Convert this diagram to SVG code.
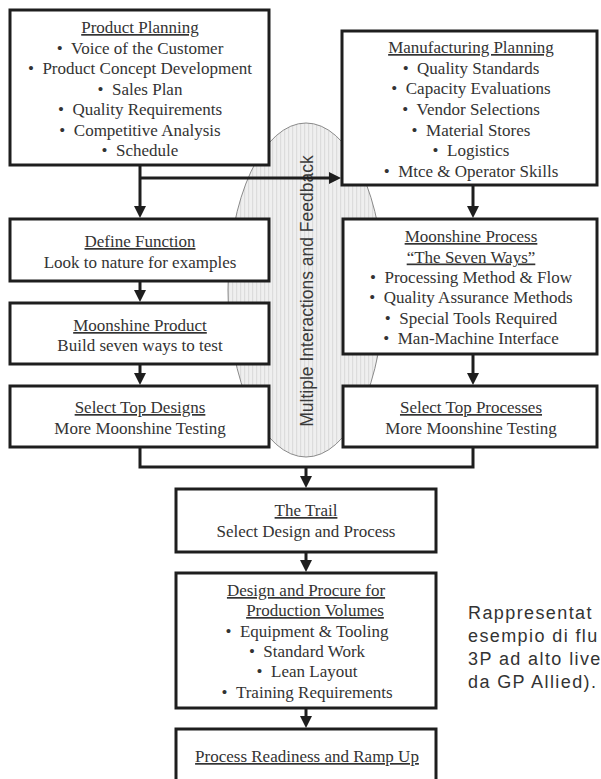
<svg xmlns="http://www.w3.org/2000/svg" width="601" height="779" viewBox="0 0 601 779">
<defs>
<style>
.box{fill:#fff;stroke:#1e1e1e;stroke-width:3}
.t{font-family:"Liberation Serif","Times New Roman",serif;font-size:17px;fill:#333;text-anchor:middle}
.u{text-decoration:underline}
.conn{stroke:#1e1e1e;stroke-width:3;fill:none}
.note{font-family:"Liberation Sans",Arial,sans-serif;font-size:18px;fill:#333;letter-spacing:1.4px}
</style>
<pattern id="stripes" width="4" height="10" patternUnits="userSpaceOnUse">
<rect width="4" height="10" fill="#efefef"/>
<rect width="1.2" height="10" fill="#dcdcdc"/>
</pattern>
<marker id="arr" markerUnits="userSpaceOnUse" markerWidth="12" markerHeight="12" refX="8" refY="6" orient="auto">
<path d="M0,0 L12,6 L0,12 z" fill="#1e1e1e"/>
</marker>
</defs>
<rect width="601" height="779" fill="#fff"/>

<g id="feedback">
<ellipse cx="306" cy="290" rx="78" ry="167" fill="url(#stripes)" stroke="#8a8a8a" stroke-width="1"/>
<text transform="translate(312.5,291) rotate(-90)" text-anchor="middle" font-family="'Liberation Sans',Arial,sans-serif" font-size="17.5" fill="#3a3a3a">Multiple Interactions and Feedback</text>
</g>

<g id="connectors">
<path class="conn" d="M140,166 V214" marker-end="url(#arr)"/>
<path class="conn" d="M140,178 H337" marker-end="url(#arr)"/>
<path class="conn" d="M473,186 V214" marker-end="url(#arr)"/>
<path class="conn" d="M140,282 V298" marker-end="url(#arr)"/>
<path class="conn" d="M140,364 V381" marker-end="url(#arr)"/>
<path class="conn" d="M473,354 V381" marker-end="url(#arr)"/>
<path class="conn" d="M140,447 V467 H473 V447"/>
<path class="conn" d="M306,467 V484" marker-end="url(#arr)"/>
<path class="conn" d="M306,552 V568" marker-end="url(#arr)"/>
<path class="conn" d="M306,708 V724" marker-end="url(#arr)"/>
</g>

<g id="product-planning">
<rect class="box" x="10" y="10" width="259" height="155"/>
<text class="t u" x="140" y="33">Product Planning</text>
<text class="t" x="140" y="53.5">•&#160;&#160;Voice of the Customer</text>
<text class="t" x="140" y="74">•&#160;&#160;Product Concept Development</text>
<text class="t" x="140" y="94.5">•&#160;&#160;Sales Plan</text>
<text class="t" x="140" y="115">•&#160;&#160;Quality Requirements</text>
<text class="t" x="140" y="135.5">•&#160;&#160;Competitive Analysis</text>
<text class="t" x="140" y="156">•&#160;&#160;Schedule</text>
</g>

<g id="manufacturing-planning">
<rect class="box" x="342" y="31" width="255" height="154"/>
<text class="t u" x="471" y="53">Manufacturing Planning</text>
<text class="t" x="471" y="73.5">•&#160;&#160;Quality Standards</text>
<text class="t" x="471" y="94">•&#160;&#160;Capacity Evaluations</text>
<text class="t" x="471" y="115">•&#160;&#160;Vendor Selections</text>
<text class="t" x="471" y="135.5">•&#160;&#160;Material Stores</text>
<text class="t" x="471" y="156">•&#160;&#160;Logistics</text>
<text class="t" x="471" y="177">•&#160;&#160;Mtce &amp; Operator Skills</text>
</g>

<g id="define-function">
<rect class="box" x="10" y="219" width="259" height="62"/>
<text class="t u" x="140" y="247">Define Function</text>
<text class="t" x="140" y="268">Look to nature for examples</text>
</g>

<g id="moonshine-product">
<rect class="box" x="10" y="303" width="259" height="61"/>
<text class="t u" x="140" y="331">Moonshine Product</text>
<text class="t" x="140" y="351">Build seven ways to test</text>
</g>

<g id="select-top-designs">
<rect class="box" x="10" y="386" width="259" height="61"/>
<text class="t u" x="140" y="413">Select Top Designs</text>
<text class="t" x="140" y="434">More Moonshine Testing</text>
</g>

<g id="moonshine-process">
<rect class="box" x="343" y="219" width="254" height="135"/>
<text class="t u" x="471" y="242">Moonshine Process</text>
<text class="t u" x="471" y="262.5">“The Seven Ways”</text>
<text class="t" x="471" y="283">•&#160;&#160;Processing Method &amp; Flow</text>
<text class="t" x="471" y="303">•&#160;&#160;Quality Assurance Methods</text>
<text class="t" x="471" y="323.5">•&#160;&#160;Special Tools Required</text>
<text class="t" x="471" y="344">•&#160;&#160;Man-Machine Interface</text>
</g>

<g id="select-top-processes">
<rect class="box" x="343" y="386" width="254" height="61"/>
<text class="t u" x="471" y="413">Select Top Processes</text>
<text class="t" x="471" y="434">More Moonshine Testing</text>
</g>

<g id="the-trail">
<rect class="box" x="176" y="489" width="260" height="63"/>
<text class="t u" x="306" y="516">The Trail</text>
<text class="t" x="306" y="537">Select Design and Process</text>
</g>

<g id="design-procure">
<rect class="box" x="176" y="573" width="260" height="135"/>
<text class="t u" x="306" y="596">Design and Procure for</text>
<text class="t u" x="315" y="616">Production Volumes</text>
<text class="t" x="307" y="637">•&#160;&#160;Equipment &amp; Tooling</text>
<text class="t" x="307" y="657">•&#160;&#160;Standard Work</text>
<text class="t" x="307" y="677">•&#160;&#160;Lean Layout</text>
<text class="t" x="307" y="698">•&#160;&#160;Training Requirements</text>
</g>

<g id="process-readiness">
<rect class="box" x="176" y="729" width="260" height="62"/>
<text class="t u" x="307" y="762">Process Readiness and Ramp Up</text>
</g>

<g id="caption">
<text class="note" x="468" y="619">Rappresentat</text>
<text class="note" x="468" y="642">esempio di flu</text>
<text class="note" x="468" y="665">3P ad alto live</text>
<text class="note" x="468" y="688">da GP Allied).</text>
</g>
</svg>
